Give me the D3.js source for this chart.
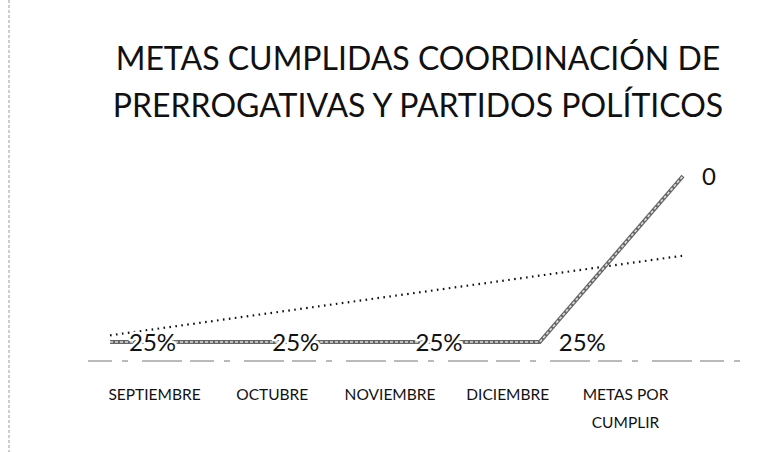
<!DOCTYPE html>
<html><head><meta charset="utf-8">
<script src="https://cdn.jsdelivr.net/npm/d3@7"></script>
<style>body{margin:0;background:#fff}svg{display:block}</style>
</head><body><svg id="c" width="766" height="452"></svg>
<script>
const titleLines = ["METAS CUMPLIDAS COORDINACIÓN DE", "PRERROGATIVAS Y PARTIDOS POLÍTICOS"];
const categories = ["SEPTIEMBRE", "OCTUBRE", "NOVIEMBRE", "DICIEMBRE", "METAS POR CUMPLIR"];
const values = [0.25, 0.25, 0.25, 0.25, 0];
const valueLabels = ["25%", "25%", "25%", "25%", "0"];
const trendValues = [0.24, 0.12]; // linear trend at first and last category

const svg = d3.select("#c");
const font = "Lato, 'Open Sans', sans-serif";

// scanned page border
svg.append("line").attr("x1", 9).attr("x2", 9).attr("y1", 0).attr("y2", 452)
  .attr("stroke", "#999").attr("stroke-width", 1).attr("stroke-dasharray", "3,2");

// title
svg.append("g").selectAll("text").data(titleLines).join("text")
  .attr("x", 418).attr("y", (d, i) => 70 + i * 47)
  .attr("text-anchor", "middle").attr("font-family", font)
  .attr("font-size", 32).attr("fill", "#111").text(d => d);

// scales (value axis reversed)
const xLine = d3.scalePoint().domain(categories).range([110, 683]);
const xAxisScale = d3.scalePoint().domain(categories).range([154, 625]);
const y = d3.scaleLinear().domain([0, 0.25]).range([176, 342]);
const axisY = 361;

// category axis
const ax = svg.append("g").attr("transform", `translate(0,${axisY})`)
  .call(d3.axisBottom(xAxisScale).tickSize(0).tickPadding(28));
ax.select(".domain").remove();
ax.selectAll("text").attr("font-family", font).attr("font-size", 15.5).attr("fill", "#111")
  .each(function (d) {
    const t = d3.select(this);
    if (d === "METAS POR CUMPLIR") {
      t.text(null);
      t.append("tspan").attr("x", 0).attr("dy", "0.71em").text("METAS POR");
      t.append("tspan").attr("x", 0).attr("dy", "1.8em").text("CUMPLIR");
      t.attr("dy", null);
    }
  });
svg.append("line").attr("x1", 88).attr("x2", 742).attr("y1", axisY).attr("y2", axisY)
  .attr("stroke", "#777").attr("stroke-width", 1.2).attr("stroke-dasharray", "24,10,6,14,40,8");

// trend line
svg.append("line")
  .attr("x1", xLine(categories[0])).attr("y1", y(trendValues[0]))
  .attr("x2", xLine(categories[categories.length - 1])).attr("y2", y(trendValues[1]))
  .attr("stroke", "#111").attr("stroke-width", 2.2).attr("stroke-dasharray", "1.6,4.4");

// series line
const line = d3.line().x((d, i) => xLine(categories[i])).y(d => y(d));
svg.append("path").datum(values).attr("d", line)
  .attr("fill", "none").attr("stroke", "#666").attr("stroke-width", 4);
svg.append("path").datum(values).attr("d", line)
  .attr("fill", "none").attr("stroke", "#ddd").attr("stroke-width", 1.6)
  .attr("stroke-dasharray", "3,2");

// data labels (with white backing, as in Excel)
const lab = svg.append("g").selectAll("g").data(values).join("g")
  .attr("transform", (d, i) => `translate(${xLine(categories[i]) + 19},${y(d) + 9})`);
lab.append("text")
  .attr("font-family", font).attr("font-size", 24).attr("fill", "#111")
  .attr("stroke", "#fff").attr("stroke-width", 5).attr("stroke-linejoin", "round")
  .attr("paint-order", "stroke")
  .text((d, i) => valueLabels[i]);
</script></body></html>
